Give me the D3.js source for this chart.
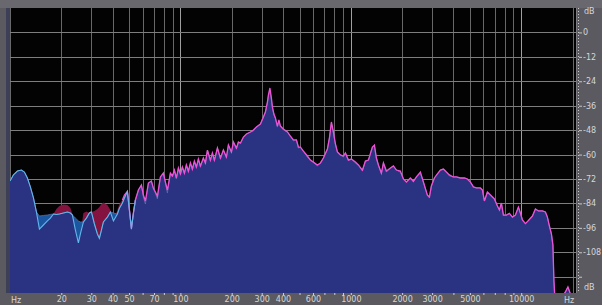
<!DOCTYPE html>
<html><head><meta charset="utf-8">
<script src="https://cdn.jsdelivr.net/npm/d3@7"></script>
<style>html,body{margin:0;padding:0;background:#58585e;overflow:hidden}svg{display:block}</style>
</head><body>
<svg id="chart" width="602" height="305"></svg>
<script>
// ---- data ----
const freqs = [10,10.47,11.05,11.67,12.15,12.65,13.17,13.73,14.29,14.88,15.71,16.58,17.26,17.98,18.72,19.49,20.58,21.72,22.62,23.24,24.2,25.2,25.89,26.97,28.08,29.24,30.04,31.29,32.58,33.47,34.39,35.33,37.29,38.83,40.45,42.69,43.86,45.67,46.92,48.86,50.21,51.58,53,54.44,56.69,59.03,60.65,62.31,64.89,67.57,69.42,71.32,73.28,76.31,79.46,81.63,83.87,87.36,89.76,92.22,94.74,97.34,100,102.7,105.6,108.4,111.4,114.5,117.6,120.8,124.1,127.5,131,136.4,140.2,144.1,150,154.1,158.3,164.9,171.7,178.8,186.2,191.3,199.3,204.7,213.2,219,225,234.3,244,257.6,268.2,279.3,294.8,307,315.4,324,328.5,335.2,342,346.7,353.8,361,370.9,378.5,386.3,402.3,424.6,442.2,460.5,479.6,492.7,506.1,527.1,556.3,579.3,603.2,636.7,663.1,690.5,728.9,748.9,769.4,790.5,812.1,834.4,868.8,904.7,929.5,968,1008,1064,1108,1170,1218,1269,1339,1376,1413,1452,1512,1554,1618,1708,1778,1852,1954,2036,2120,2237,2330,2427,2561,2667,2815,2892,2971,3094,3222,3356,3495,3640,3790,4001,4167,4398,4642,4834,5034,5243,5460,5763,5921,6082,6333,6597,6963,7251,7450,7653,7862,8187,8525,8879,9247,9629,9892,10163,10584,11021,11635,12119,12620,13318,13868,14248,14638,15040,15347,15556,15768,16984,18173,18797,19444,21085];

// channel drawn with the magenta line (dark red fill where it is higher)
const chanA = [-73.0,-70.0,-68.1,-67.6,-68.6,-71.5,-75.9,-81.3,-88.2,-96.6,-94.6,-92.6,-91.2,-89.2,-86.7,-85.3,-84.5,-84.8,-86.3,-89.2,-97.1,-103.4,-99.0,-88.7,-88.0,-88.7,-88.2,-87.7,-86.7,-85.8,-84.3,-83.5,-84.8,-87.2,-92.6,-87.2,-84.3,-82.3,-79.9,-78.1,-87.2,-96.1,-88.7,-82.3,-77.4,-75.0,-79.9,-82.8,-74.0,-73.0,-76.4,-78.4,-80.4,-71.0,-69.1,-73.5,-77.4,-69.1,-70.5,-67.6,-71.5,-66.6,-69.5,-66.1,-69.1,-65.1,-68.1,-64.1,-67.1,-63.2,-66.1,-62.2,-65.6,-61.7,-64.1,-57.8,-62.7,-59.2,-62.7,-56.8,-61.7,-57.8,-61.2,-55.3,-58.7,-53.8,-56.8,-53.8,-54.3,-51.4,-49.9,-48.9,-47.9,-46.5,-45.0,-41.5,-39.1,-34.2,-30.7,-27.3,-32.2,-36.6,-40.1,-42.0,-46.0,-43.0,-46.0,-47.4,-48.9,-50.9,-52.8,-52.8,-56.3,-56.3,-58.3,-60.7,-62.7,-63.7,-65.1,-64.1,-61.7,-57.3,-51.9,-44.0,-48.9,-54.8,-58.7,-60.2,-60.7,-59.2,-62.7,-62.2,-63.7,-65.1,-67.6,-63.2,-62.7,-56.3,-55.3,-61.7,-65.1,-69.1,-64.1,-68.1,-66.6,-65.6,-67.6,-68.1,-72.0,-73.5,-71.5,-73.2,-71.0,-68.6,-73.5,-79.9,-80.8,-75.4,-71.5,-69.5,-67.6,-67.1,-68.6,-70.0,-71.0,-71.0,-71.5,-71.5,-72.0,-73.5,-75.9,-76.4,-76.4,-77.4,-82.8,-78.4,-79.9,-81.8,-85.3,-87.2,-83.8,-89.7,-89.7,-88.9,-90.7,-89.7,-85.8,-88.7,-92.1,-93.9,-92.4,-90.2,-86.7,-87.7,-87.7,-88.2,-90.7,-95.1,-99.0,-104.4,-121.6,-131,-131,-127.5,-125,-128.5,-131];

// second channel (medium blue fill where it is higher)
const chanB = [-73.0,-70.0,-68.1,-67.6,-68.6,-71.5,-75.9,-81.3,-88.2,-90.2,-89.9,-89.7,-89.4,-89.2,-89.4,-89.2,-88.7,-88.2,-88.7,-89.7,-91.2,-92.6,-93.1,-93.1,-91.2,-88.5,-88.0,-94.1,-99.0,-101.1,-97.1,-93.1,-90.7,-88.2,-88.7,-89.2,-86.3,-83.8,-81.3,-78.1,-87.2,-96.6,-88.7,-82.3,-77.4,-75.0,-80.8,-84.3,-74.0,-73.0,-76.9,-78.9,-81.8,-71.0,-69.1,-73.5,-78.9,-69.1,-71.0,-67.6,-72.0,-66.6,-70.0,-66.1,-69.5,-65.1,-68.6,-64.1,-67.6,-63.2,-66.6,-62.2,-66.1,-61.7,-64.6,-57.8,-63.2,-59.2,-63.2,-56.8,-62.2,-57.8,-61.7,-55.3,-59.2,-53.8,-57.3,-53.8,-54.8,-51.4,-49.9,-48.9,-48.4,-46.5,-45.0,-41.5,-39.1,-34.6,-31.2,-28.3,-33.2,-37.1,-40.5,-42.0,-46.5,-43.5,-46.0,-47.9,-48.9,-50.9,-53.3,-52.8,-56.8,-56.3,-58.3,-61.2,-62.7,-63.7,-65.6,-64.1,-61.7,-57.3,-51.9,-44.5,-49.4,-54.8,-58.7,-60.2,-61.2,-59.2,-62.7,-62.2,-64.1,-65.1,-68.1,-63.2,-62.7,-56.3,-55.8,-61.7,-65.1,-69.5,-64.1,-68.6,-66.6,-65.6,-67.6,-68.6,-72.0,-73.5,-71.5,-73.2,-71.0,-69.1,-73.5,-79.9,-81.3,-75.4,-71.5,-69.5,-67.6,-67.1,-68.6,-70.5,-71.0,-71.0,-71.5,-71.5,-72.0,-73.5,-75.9,-76.4,-76.4,-77.4,-82.8,-78.4,-79.9,-81.8,-85.3,-87.2,-83.8,-89.7,-89.7,-88.9,-90.7,-89.7,-85.8,-88.7,-92.1,-93.9,-92.4,-90.2,-86.7,-87.7,-87.7,-88.2,-90.7,-95.1,-99.0,-104.4,-121.6,-131,-131,-127.5,-125,-128.5,-131];

const dbTicks = [0,-12,-24,-36,-48,-60,-72,-84,-96,-108,-120];
const dbLabels = ["0","-12","-24","-36","-48","-60","-72","-84","-96","-108",""];
const freqLabelTicks = [20,30,40,50,70,100,200,300,400,600,1000,2000,3000,5000,10000];
const freqMinorTicks = [60,80,90,500,700,800,900,4000,6000,7000,8000,9000];
const unitLabels = ["dB","Hz"];

// ---- layout ----
const plot = {left:10, top:8, right:576, bottom:293};
const svg = d3.select("#chart");
const x = d3.scaleLog().domain([10,20000]).range([10,572.5]);
const y = d3.scaleLinear().domain([12,-128]).range([plot.top, plot.bottom]);

const n = Math.min(freqs.length, chanA.length, chanB.length);
const data = d3.range(n).map(i => ({f:freqs[i], a:chanA[i], b:chanB[i], m:Math.min(chanA[i],chanB[i])}));

svg.append("rect").attr("width",602).attr("height",305).attr("fill","#5a5a60");
svg.append("rect").attr("x",0).attr("y",0).attr("width",602).attr("height",plot.top).attr("fill","#68686e");
svg.append("rect").attr("x",6).attr("y",plot.top).attr("width",4).attr("height",plot.bottom-plot.top).attr("fill","#3c3f55");
svg.append("rect").attr("x",plot.left).attr("y",plot.top)
  .attr("width",plot.right-plot.left).attr("height",plot.bottom-plot.top).attr("fill","#030303");

svg.append("defs").append("clipPath").attr("id","clip")
  .append("rect").attr("x",plot.left).attr("y",plot.top)
  .attr("width",plot.right-plot.left).attr("height",plot.bottom-plot.top);

// grid
const grid = svg.append("g");
x.ticks().forEach(f => {
  const dec = Math.abs(Math.log10(f) - Math.round(Math.log10(f))) < 1e-9 && f>10;
  grid.append("line").attr("x1",Math.round(x(f))+0.5).attr("x2",Math.round(x(f))+0.5)
    .attr("y1",plot.top).attr("y2",plot.bottom)
    .attr("stroke", dec ? "#a0a0a0" : "#686868").attr("stroke-width",1);
});
dbTicks.forEach(v => {
  grid.append("line").attr("x1",plot.left).attr("x2",plot.right)
    .attr("y1",Math.round(y(v))+0.5).attr("y2",Math.round(y(v))+0.5)
    .attr("stroke","#7e7e7e").attr("stroke-width",1);
});

// spectra
const g = svg.append("g").attr("clip-path","url(#clip)");
const base = plot.bottom + 5;
const areaOf = key => d3.area().x(d => x(d.f)).y0(base).y1(d => y(d[key]));
g.append("path").datum(data).attr("d", areaOf("a")).attr("fill","#84133f");
g.append("path").datum(data).attr("d", areaOf("b")).attr("fill","#1b57a0");
g.append("path").datum(data).attr("d", areaOf("m")).attr("fill","#2a3382");
g.append("path").datum(data).attr("fill","none").attr("stroke","#5a6fa8").attr("stroke-width",0.8)
  .attr("d", d3.line().x(d => x(d.f)).y(d => y(d.b)));
g.append("path").datum(data).attr("fill","none").attr("stroke","#ee52d6").attr("stroke-width",1.3)
  .attr("d", d3.line().defined(d => d.f >= 45).x(d => x(d.f)).y(d => y(d.a)));
g.append("path").datum(data.filter(d => d.f < 56)).attr("fill","none").attr("stroke","#62b6ea").attr("stroke-width",1.1)
  .attr("d", d3.line().x(d => x(d.f)).y(d => y(d.m)));

// right dB axis
const ra = svg.append("g").attr("transform",`translate(${plot.right},0)`)
  .call(d3.axisRight(y).tickValues(dbTicks).tickSize(5).tickPadding(2).tickFormat((d,i)=>dbLabels[i]));
ra.select(".domain").remove();
svg.append("line").attr("x1",plot.right+0.5).attr("x2",plot.right+0.5).attr("y1",plot.top).attr("y2",plot.bottom)
  .attr("stroke","#7c7c80");
svg.append("line").attr("x1",578.5).attr("x2",578.5).attr("y1",plot.top).attr("y2",plot.bottom)
  .attr("stroke","#c9c9c9").attr("stroke-dasharray","1,2");
ra.selectAll(".tick line").attr("x1",3).attr("x2",6).attr("stroke","#c9c9c9");
ra.selectAll(".tick text").attr("fill","#d6d6d6").attr("font-family","DejaVu Sans, sans-serif")
  .attr("font-size",8).attr("x",7);
svg.append("text").attr("x",584).attr("y",14).text(unitLabels[0])
  .attr("fill","#d6d6d6").attr("font-family","DejaVu Sans, sans-serif").attr("font-size",8);
svg.append("text").attr("x",584).attr("y",290).text(unitLabels[0])
  .attr("fill","#d6d6d6").attr("font-family","DejaVu Sans, sans-serif").attr("font-size",8);

// bottom Hz axis
const ba = svg.append("g").attr("transform",`translate(0,${plot.bottom})`)
  .call(d3.axisBottom(x).tickValues(freqLabelTicks).tickSize(2).tickPadding(1).tickFormat(d3.format("d")));
ba.select(".domain").remove();
ba.selectAll(".tick line").attr("stroke","#d0d0d0");
ba.selectAll(".tick text").attr("fill","#d6d6d6").attr("font-family","DejaVu Sans, sans-serif").attr("font-size",8);
const bm = svg.append("g").attr("transform",`translate(0,${plot.bottom})`)
  .call(d3.axisBottom(x).tickValues(freqMinorTicks).tickSize(2).tickFormat(""));
bm.select(".domain").remove();
bm.selectAll(".tick line").attr("stroke","#d0d0d0");
svg.append("text").attr("x",11).attr("y",303).text(unitLabels[1])
  .attr("fill","#d6d6d6").attr("font-family","DejaVu Sans, sans-serif").attr("font-size",8);
svg.append("text").attr("x",564).attr("y",303).text(unitLabels[1])
  .attr("fill","#d6d6d6").attr("font-family","DejaVu Sans, sans-serif").attr("font-size",8);
</script>
</body></html>
